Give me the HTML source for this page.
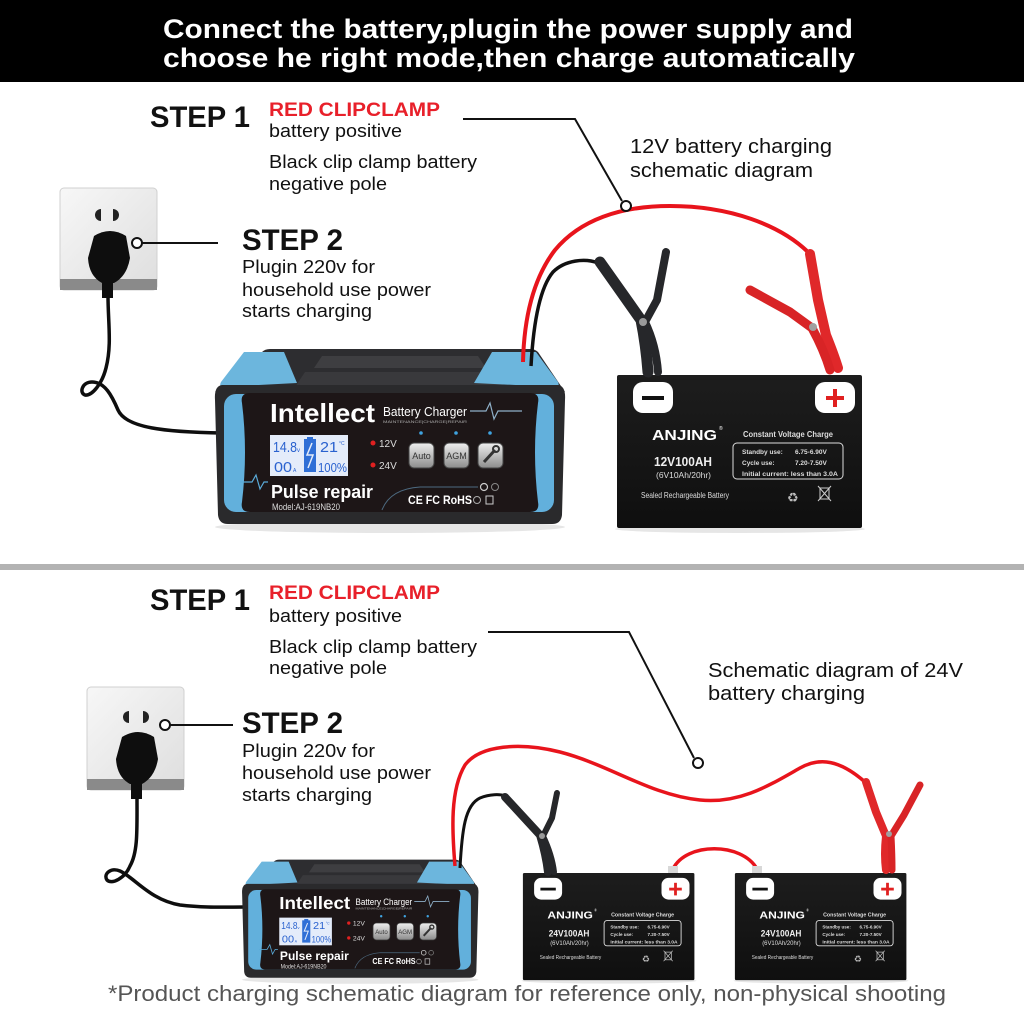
<!DOCTYPE html>
<html><head><meta charset="utf-8">
<style>html,body{margin:0;padding:0;background:#fff}svg{display:block}</style>
</head>
<body>
<svg width="1024" height="1024" viewBox="0 0 1024 1024" xmlns="http://www.w3.org/2000/svg" font-family="'Liberation Sans', sans-serif">
<defs>
 <linearGradient id="btn" x1="0" y1="0" x2="0" y2="1"><stop offset="0" stop-color="#efefef"/><stop offset="1" stop-color="#8c8c8c"/></linearGradient>
 <linearGradient id="sock" x1="0" y1="0" x2="1" y2="1"><stop offset="0" stop-color="#f7f7f7"/><stop offset="1" stop-color="#dedede"/></linearGradient>
 <linearGradient id="bat" x1="0" y1="0" x2="0" y2="1"><stop offset="0" stop-color="#1d1d1d"/><stop offset="1" stop-color="#0f0f0f"/></linearGradient>
</defs>
<rect width="1024" height="1024" fill="#fff"/>

<!-- HEADER -->
<rect width="1024" height="82" fill="#000"/>
<text x="163" y="38" font-size="27" font-weight="bold" fill="#fff" textLength="690" lengthAdjust="spacingAndGlyphs">Connect the battery,plugin the power supply and</text>
<text x="163" y="67" font-size="27" font-weight="bold" fill="#fff" textLength="692" lengthAdjust="spacingAndGlyphs">choose he right mode,then charge automatically</text>

<!-- ===== TOP PANEL TEXT ===== -->
<text x="150" y="127" font-size="30" font-weight="bold" fill="#111" textLength="100" lengthAdjust="spacingAndGlyphs">STEP 1</text>
<text x="269" y="116" font-size="19" font-weight="bold" fill="#e8202a" textLength="171" lengthAdjust="spacingAndGlyphs">RED CLIPCLAMP</text>
<text x="269" y="137" font-size="18" fill="#111" textLength="133" lengthAdjust="spacingAndGlyphs">battery positive</text>
<text x="269" y="168" font-size="18" fill="#111" textLength="208" lengthAdjust="spacingAndGlyphs">Black clip clamp battery</text>
<text x="269" y="190" font-size="18" fill="#111" textLength="118" lengthAdjust="spacingAndGlyphs">negative pole</text>
<text x="242" y="250" font-size="30" font-weight="bold" fill="#111" textLength="101" lengthAdjust="spacingAndGlyphs">STEP 2</text>
<text x="242" y="273" font-size="18" fill="#111" textLength="133" lengthAdjust="spacingAndGlyphs">Plugin 220v for</text>
<text x="242" y="296" font-size="18" fill="#111" textLength="189" lengthAdjust="spacingAndGlyphs">household use power</text>
<text x="242" y="317" font-size="18" fill="#111" textLength="130" lengthAdjust="spacingAndGlyphs">starts charging</text>
<text x="630" y="153" font-size="20" fill="#111" textLength="202" lengthAdjust="spacingAndGlyphs">12V battery charging</text>
<text x="630" y="177" font-size="20" fill="#111" textLength="183" lengthAdjust="spacingAndGlyphs">schematic diagram</text>

<polyline points="463,119 575,119 622,201" fill="none" stroke="#111" stroke-width="2"/>

<!-- top socket -->
<rect x="60" y="188" width="97" height="102" rx="4" fill="url(#sock)" stroke="#d0d0d0"/>
<rect x="60" y="279" width="97" height="11" fill="#8a8a8a"/>
<path d="M101,209 L101,221 A6,6 0 0 1 101,209 Z" fill="#222"/>
<path d="M113,209 L113,221 A6,6 0 0 0 113,209 Z" fill="#222"/>
<path d="M94,236 Q110,226 126,236 L130,258 Q127,276 114,283 L102,283 Q89,276 88,258 Z" fill="#0e0e0e"/>
<rect x="102" y="278" width="11" height="20" fill="#0e0e0e"/>
<circle cx="137" cy="243" r="5" fill="#fff" stroke="#111" stroke-width="2"/>
<line x1="142" y1="243" x2="218" y2="243" stroke="#111" stroke-width="2"/>
<path d="M108,296 C108,322 112,345 106,368 C102,384 92,396 85,395 C79,393 82,382 92,382 C105,382 112,396 118,410 C126,428 165,432 222,433" fill="none" stroke="#0e0e0e" stroke-width="3.5"/>

<!-- top charger -->
<g>
 <ellipse cx="390" cy="527" rx="175" ry="6" fill="#e6e6e6"/>
 <path d="M262,352 Q265,349 270,349 L530,349 Q535,349 538,352 L565,392 L215,392 Z" fill="#2d2d30"/>
 <path d="M322,356 L478,356 L486,368 L314,368 Z" fill="#3e3e41"/>
 <path d="M305,372 L495,372 L505,387 L295,387 Z" fill="#39393c"/>
 <path d="M244,352 L284,352 L297,383 L222,387 Q219,386 221,382 Z" fill="#6cb6dd"/>
 <path d="M492,352 L536,352 L558,382 Q560,386 556,387 L474,383 Z" fill="#6cb6dd"/>
 <path d="M222,385 L558,385 Q566,386 565,400 L562,515 Q561,524 552,524 L228,524 Q219,524 218,515 L215,400 Q214,386 222,385 Z" fill="#2a2a2c"/>
 <rect x="224" y="394" width="330" height="118" rx="12" fill="#62b0dc"/>
 <path d="M250,393 L530,393 Q540,393 538,403 Q532,452 538,502 Q540,512 530,512 L250,512 Q240,512 242,502 Q248,452 242,403 Q240,393 250,393 Z" fill="#1d1617"/>
 <text x="270" y="422" font-size="26" font-weight="bold" fill="#fff" textLength="105" lengthAdjust="spacingAndGlyphs">Intellect</text>
 <text x="383" y="416" font-size="13" fill="#fff" textLength="84" lengthAdjust="spacingAndGlyphs">Battery Charger</text>
 <text x="383" y="423" font-size="4" fill="#aaa" textLength="84" lengthAdjust="spacingAndGlyphs">MAINTENANCE|CHARGE|REPAIR</text>
 <polyline points="470,411 486,411 490,403 494,419 498,411 522,411" fill="none" stroke="#8fb0c8" stroke-width="1.2"/>
 <polyline points="240,482 252,482 256,475 260,489 264,482 268,482" fill="none" stroke="#5aaad8" stroke-width="1.2"/>
 <rect x="270" y="435" width="78" height="41" fill="#e4ecfa"/>
 <text x="273" y="452" font-size="15" fill="#2a62cf" textLength="24" lengthAdjust="spacingAndGlyphs">14.8</text>
 <text x="297" y="452" font-size="6" fill="#2a62cf">v</text>
 <rect x="307" y="437" width="6" height="3" fill="#2f6fd6"/>
 <rect x="304" y="439" width="12" height="33" fill="#2f6fd6"/>
 <polyline points="312,443 307,455 313,455 308,468" fill="none" stroke="#e4ecfa" stroke-width="1.5"/>
 <text x="320" y="452" font-size="15" fill="#2a62cf" textLength="18" lengthAdjust="spacingAndGlyphs">21</text>
 <text x="339" y="445" font-size="5" fill="#2a62cf">°C</text>
 <text x="274" y="472" font-size="15" fill="#2a62cf" textLength="18" lengthAdjust="spacingAndGlyphs">00</text>
 <text x="293" y="472" font-size="5" fill="#2a62cf">A</text>
 <text x="318" y="472" font-size="13" fill="#2a62cf" textLength="29" lengthAdjust="spacingAndGlyphs">100%</text>
 <circle cx="373" cy="443" r="2.5" fill="#e02020"/>
 <text x="379" y="447" font-size="10" fill="#ddd">12V</text>
 <circle cx="373" cy="465" r="2.5" fill="#e02020"/>
 <text x="379" y="469" font-size="10" fill="#ddd">24V</text>
 <circle cx="421" cy="433" r="1.8" fill="#3fa3e0"/>
 <circle cx="456" cy="433" r="1.8" fill="#3fa3e0"/>
 <circle cx="490" cy="433" r="1.8" fill="#3fa3e0"/>
 <rect x="409" y="443" width="25" height="25" rx="5" fill="url(#btn)" stroke="#444"/>
 <text x="421.5" y="459" font-size="9" fill="#333" text-anchor="middle">Auto</text>
 <rect x="444" y="443" width="25" height="25" rx="5" fill="url(#btn)" stroke="#444"/>
 <text x="456.5" y="459" font-size="9" fill="#333" text-anchor="middle">AGM</text>
 <rect x="478" y="443" width="25" height="25" rx="5" fill="url(#btn)" stroke="#444"/>
 <line x1="484" y1="462" x2="495" y2="450" stroke="#333" stroke-width="3"/>
 <circle cx="496" cy="449" r="3" fill="none" stroke="#333" stroke-width="2"/>
 <text x="271" y="498" font-size="18" font-weight="bold" fill="#fff" textLength="102" lengthAdjust="spacingAndGlyphs">Pulse repair</text>
 <text x="272" y="510" font-size="9" fill="#ddd" textLength="68" lengthAdjust="spacingAndGlyphs">Model:AJ-619NB20</text>
 <path d="M382,510 Q390,489 420,487 L478,487" fill="none" stroke="#4d6a80" stroke-width="1"/>
 <text x="408" y="504" font-size="12" font-weight="bold" fill="#fff" textLength="64" lengthAdjust="spacingAndGlyphs">CE FC RoHS</text>
 <circle cx="484" cy="487" r="3.5" fill="none" stroke="#ccc" stroke-width="1.2"/>
 <circle cx="495" cy="487" r="3.5" fill="none" stroke="#888" stroke-width="1"/>
 <circle cx="477" cy="500" r="3.5" fill="none" stroke="#aaa" stroke-width="1"/>
 <rect x="486" y="496" width="7" height="8" fill="none" stroke="#ccc" stroke-width="1"/>
</g>

<!-- top battery -->
<g>
 <ellipse cx="740" cy="529" rx="125" ry="4" fill="#e6e6e6"/>
 <rect x="617" y="375" width="245" height="153" rx="2" fill="url(#bat)"/>
 <rect x="633" y="382" width="40" height="31" rx="10" fill="#fff"/>
 <rect x="642" y="396" width="22" height="4" fill="#111"/>
 <rect x="815" y="382" width="40" height="31" rx="10" fill="#fff"/>
 <rect x="826" y="396" width="18" height="4" fill="#e02020"/>
 <rect x="833" y="389" width="4" height="18" fill="#e02020"/>
 <text x="652" y="440" font-size="15" font-weight="bold" fill="#fff" textLength="65" lengthAdjust="spacingAndGlyphs">ANJING</text>
 <text x="719" y="430" font-size="5" fill="#fff">®</text>
 <text x="654" y="466" font-size="13" font-weight="bold" fill="#eee" textLength="58" lengthAdjust="spacingAndGlyphs">12V100AH</text>
 <text x="656" y="478" font-size="8.5" fill="#ddd" textLength="55" lengthAdjust="spacingAndGlyphs">(6V10Ah/20hr)</text>
 <text x="641" y="498" font-size="8" fill="#ddd" textLength="88" lengthAdjust="spacingAndGlyphs">Sealed Rechargeable Battery</text>
 <text x="743" y="437" font-size="8" font-weight="bold" fill="#ddd" textLength="90" lengthAdjust="spacingAndGlyphs">Constant Voltage Charge</text>
 <rect x="733" y="443" width="110" height="36" rx="4" fill="none" stroke="#ddd" stroke-width="1"/>
 <text x="742" y="454" font-size="6.5" fill="#ddd" font-weight="bold">Standby  use:</text>
 <text x="795" y="454" font-size="6.5" fill="#ddd" font-weight="bold">6.75-6.90V</text>
 <text x="742" y="465" font-size="6.5" fill="#ddd" font-weight="bold">Cycle      use:</text>
 <text x="795" y="465" font-size="6.5" fill="#ddd" font-weight="bold">7.20-7.50V</text>
 <text x="742" y="476" font-size="6.5" fill="#ddd" font-weight="bold" textLength="96" lengthAdjust="spacingAndGlyphs">Initial current:  less than  3.0A</text>
 <text x="787" y="502" font-size="13" fill="#bbb">♻</text>
 <rect x="820" y="488" width="9" height="11" fill="none" stroke="#ccc" stroke-width="1"/>
 <line x1="818" y1="486" x2="831" y2="501" stroke="#ccc"/>
 <line x1="831" y1="486" x2="818" y2="501" stroke="#ccc"/>
</g>

<!-- top wires & clips -->
<path d="M523,362 C524,320 532,280 555,250 C580,220 620,206 670,206 C730,206 780,225 808,252" fill="none" stroke="#e8141c" stroke-width="4"/>
<path d="M531,366 C533,330 538,290 553,272 C565,260 585,258 598,263" fill="none" stroke="#111" stroke-width="3.5"/>
<circle cx="626" cy="206" r="5" fill="#fff" stroke="#111" stroke-width="2"/>
<path d="M600,262 L641,320 Q646,345 648,372" fill="none" stroke="#26272a" stroke-width="11" stroke-linecap="round" stroke-linejoin="round"/>
<path d="M666,252 L657,300 L645,322 Q656,345 658,372" fill="none" stroke="#26272a" stroke-width="8" stroke-linecap="round" stroke-linejoin="round"/>
<circle cx="643" cy="322" r="4" fill="#9a9a9a"/>
<path d="M810,254 L818,300 L826,335 Q834,355 838,368" fill="none" stroke="#e0282a" stroke-width="10" stroke-linecap="round" stroke-linejoin="round"/>
<path d="M750,290 L790,312 L812,328 Q824,350 830,370" fill="none" stroke="#d82426" stroke-width="9" stroke-linecap="round" stroke-linejoin="round"/>
<circle cx="813" cy="327" r="4" fill="#a0a0a0"/>

<!-- separator -->
<rect x="0" y="564" width="1024" height="6" fill="#b3b3b3"/>

<!-- ===== BOTTOM PANEL TEXT ===== -->
<text x="150" y="610" font-size="30" font-weight="bold" fill="#111" textLength="100" lengthAdjust="spacingAndGlyphs">STEP 1</text>
<text x="269" y="599" font-size="19" font-weight="bold" fill="#e8202a" textLength="171" lengthAdjust="spacingAndGlyphs">RED CLIPCLAMP</text>
<text x="269" y="622" font-size="18" fill="#111" textLength="133" lengthAdjust="spacingAndGlyphs">battery positive</text>
<text x="269" y="653" font-size="18" fill="#111" textLength="208" lengthAdjust="spacingAndGlyphs">Black clip clamp battery</text>
<text x="269" y="674" font-size="18" fill="#111" textLength="118" lengthAdjust="spacingAndGlyphs">negative pole</text>
<text x="242" y="733" font-size="30" font-weight="bold" fill="#111" textLength="101" lengthAdjust="spacingAndGlyphs">STEP 2</text>
<text x="242" y="757" font-size="18" fill="#111" textLength="133" lengthAdjust="spacingAndGlyphs">Plugin 220v for</text>
<text x="242" y="779" font-size="18" fill="#111" textLength="189" lengthAdjust="spacingAndGlyphs">household use power</text>
<text x="242" y="801" font-size="18" fill="#111" textLength="130" lengthAdjust="spacingAndGlyphs">starts charging</text>
<text x="708" y="677" font-size="20" fill="#111" textLength="255" lengthAdjust="spacingAndGlyphs">Schematic diagram of 24V</text>
<text x="708" y="700" font-size="20" fill="#111" textLength="157" lengthAdjust="spacingAndGlyphs">battery charging</text>

<polyline points="488,632 629,632 694,758" fill="none" stroke="#111" stroke-width="2"/>

<!-- bottom socket -->
<rect x="87" y="687" width="97" height="103" rx="4" fill="url(#sock)" stroke="#d0d0d0"/>
<rect x="87" y="779" width="97" height="11" fill="#8a8a8a"/>
<path d="M129,711 L129,723 A6,6 0 0 1 129,711 Z" fill="#222"/>
<path d="M143,711 L143,723 A6,6 0 0 0 143,711 Z" fill="#222"/>
<path d="M122,737 Q138,727 154,737 L158,759 Q155,777 142,784 L130,784 Q117,777 116,759 Z" fill="#0e0e0e"/>
<rect x="131" y="779" width="11" height="20" fill="#0e0e0e"/>
<circle cx="165" cy="725" r="5" fill="#fff" stroke="#111" stroke-width="2"/>
<line x1="170" y1="725" x2="233" y2="725" stroke="#111" stroke-width="2"/>
<path d="M137,797 C137,830 138,852 130,866 C125,878 112,885 107,880 C103,874 111,867 120,871 C135,878 150,900 180,905 C205,908 225,907 246,907" fill="none" stroke="#0e0e0e" stroke-width="3.5"/>

<!-- bottom charger (scaled copy) -->
<g transform="translate(97,624) scale(0.675)">
 <ellipse cx="390" cy="527" rx="175" ry="6" fill="#e6e6e6"/>
 <path d="M262,352 Q265,349 270,349 L530,349 Q535,349 538,352 L565,392 L215,392 Z" fill="#2d2d30"/>
 <path d="M322,356 L478,356 L486,368 L314,368 Z" fill="#3e3e41"/>
 <path d="M305,372 L495,372 L505,387 L295,387 Z" fill="#39393c"/>
 <path d="M244,352 L284,352 L297,383 L222,387 Q219,386 221,382 Z" fill="#6cb6dd"/>
 <path d="M492,352 L536,352 L558,382 Q560,386 556,387 L474,383 Z" fill="#6cb6dd"/>
 <path d="M222,385 L558,385 Q566,386 565,400 L562,515 Q561,524 552,524 L228,524 Q219,524 218,515 L215,400 Q214,386 222,385 Z" fill="#2a2a2c"/>
 <rect x="224" y="394" width="330" height="118" rx="12" fill="#62b0dc"/>
 <path d="M250,393 L530,393 Q540,393 538,403 Q532,452 538,502 Q540,512 530,512 L250,512 Q240,512 242,502 Q248,452 242,403 Q240,393 250,393 Z" fill="#1d1617"/>
 <text x="270" y="422" font-size="26" font-weight="bold" fill="#fff" textLength="105" lengthAdjust="spacingAndGlyphs">Intellect</text>
 <text x="383" y="416" font-size="13" fill="#fff" textLength="84" lengthAdjust="spacingAndGlyphs">Battery Charger</text>
 <text x="383" y="423" font-size="4" fill="#aaa" textLength="84" lengthAdjust="spacingAndGlyphs">MAINTENANCE|CHARGE|REPAIR</text>
 <polyline points="470,411 486,411 490,403 494,419 498,411 522,411" fill="none" stroke="#8fb0c8" stroke-width="1.2"/>
 <polyline points="240,482 252,482 256,475 260,489 264,482 268,482" fill="none" stroke="#5aaad8" stroke-width="1.2"/>
 <rect x="270" y="435" width="78" height="41" fill="#e4ecfa"/>
 <text x="273" y="452" font-size="15" fill="#2a62cf" textLength="24" lengthAdjust="spacingAndGlyphs">14.8</text>
 <text x="297" y="452" font-size="6" fill="#2a62cf">v</text>
 <rect x="307" y="437" width="6" height="3" fill="#2f6fd6"/>
 <rect x="304" y="439" width="12" height="33" fill="#2f6fd6"/>
 <polyline points="312,443 307,455 313,455 308,468" fill="none" stroke="#e4ecfa" stroke-width="1.5"/>
 <text x="320" y="452" font-size="15" fill="#2a62cf" textLength="18" lengthAdjust="spacingAndGlyphs">21</text>
 <text x="339" y="445" font-size="5" fill="#2a62cf">°C</text>
 <text x="274" y="472" font-size="15" fill="#2a62cf" textLength="18" lengthAdjust="spacingAndGlyphs">00</text>
 <text x="293" y="472" font-size="5" fill="#2a62cf">A</text>
 <text x="318" y="472" font-size="13" fill="#2a62cf" textLength="29" lengthAdjust="spacingAndGlyphs">100%</text>
 <circle cx="373" cy="443" r="2.5" fill="#e02020"/>
 <text x="379" y="447" font-size="10" fill="#ddd">12V</text>
 <circle cx="373" cy="465" r="2.5" fill="#e02020"/>
 <text x="379" y="469" font-size="10" fill="#ddd">24V</text>
 <circle cx="421" cy="433" r="1.8" fill="#3fa3e0"/>
 <circle cx="456" cy="433" r="1.8" fill="#3fa3e0"/>
 <circle cx="490" cy="433" r="1.8" fill="#3fa3e0"/>
 <rect x="409" y="443" width="25" height="25" rx="5" fill="url(#btn)" stroke="#444"/>
 <text x="421.5" y="459" font-size="9" fill="#333" text-anchor="middle">Auto</text>
 <rect x="444" y="443" width="25" height="25" rx="5" fill="url(#btn)" stroke="#444"/>
 <text x="456.5" y="459" font-size="9" fill="#333" text-anchor="middle">AGM</text>
 <rect x="478" y="443" width="25" height="25" rx="5" fill="url(#btn)" stroke="#444"/>
 <line x1="484" y1="462" x2="495" y2="450" stroke="#333" stroke-width="3"/>
 <circle cx="496" cy="449" r="3" fill="none" stroke="#333" stroke-width="2"/>
 <text x="271" y="498" font-size="18" font-weight="bold" fill="#fff" textLength="102" lengthAdjust="spacingAndGlyphs">Pulse repair</text>
 <text x="272" y="510" font-size="9" fill="#ddd" textLength="68" lengthAdjust="spacingAndGlyphs">Model:AJ-619NB20</text>
 <path d="M382,510 Q390,489 420,487 L478,487" fill="none" stroke="#4d6a80" stroke-width="1"/>
 <text x="408" y="504" font-size="12" font-weight="bold" fill="#fff" textLength="64" lengthAdjust="spacingAndGlyphs">CE FC RoHS</text>
 <circle cx="484" cy="487" r="3.5" fill="none" stroke="#ccc" stroke-width="1.2"/>
 <circle cx="495" cy="487" r="3.5" fill="none" stroke="#888" stroke-width="1"/>
 <circle cx="477" cy="500" r="3.5" fill="none" stroke="#aaa" stroke-width="1"/>
 <rect x="486" y="496" width="7" height="8" fill="none" stroke="#ccc" stroke-width="1"/>
</g>

<!-- bottom battery 1 -->
<g transform="translate(91,610.5) scale(0.7)">
 <ellipse cx="740" cy="529" rx="125" ry="4" fill="#e6e6e6"/>
 <rect x="617" y="375" width="245" height="153" rx="2" fill="url(#bat)"/>
 <rect x="633" y="382" width="40" height="31" rx="10" fill="#fff"/>
 <rect x="642" y="396" width="22" height="4" fill="#111"/>
 <rect x="815" y="382" width="40" height="31" rx="10" fill="#fff"/>
 <rect x="826" y="396" width="18" height="4" fill="#e02020"/>
 <rect x="833" y="389" width="4" height="18" fill="#e02020"/>
 <text x="652" y="440" font-size="15" font-weight="bold" fill="#fff" textLength="65" lengthAdjust="spacingAndGlyphs">ANJING</text>
 <text x="719" y="430" font-size="5" fill="#fff">®</text>
 <text x="654" y="466" font-size="13" font-weight="bold" fill="#eee" textLength="58" lengthAdjust="spacingAndGlyphs">24V100AH</text>
 <text x="656" y="478" font-size="8.5" fill="#ddd" textLength="55" lengthAdjust="spacingAndGlyphs">(6V10Ah/20hr)</text>
 <text x="641" y="498" font-size="8" fill="#ddd" textLength="88" lengthAdjust="spacingAndGlyphs">Sealed Rechargeable Battery</text>
 <text x="743" y="437" font-size="8" font-weight="bold" fill="#ddd" textLength="90" lengthAdjust="spacingAndGlyphs">Constant Voltage Charge</text>
 <rect x="733" y="443" width="110" height="36" rx="4" fill="none" stroke="#ddd" stroke-width="1.3"/>
 <text x="742" y="454" font-size="6.5" fill="#ddd" font-weight="bold">Standby  use:</text>
 <text x="795" y="454" font-size="6.5" fill="#ddd" font-weight="bold">6.75-6.90V</text>
 <text x="742" y="465" font-size="6.5" fill="#ddd" font-weight="bold">Cycle      use:</text>
 <text x="795" y="465" font-size="6.5" fill="#ddd" font-weight="bold">7.20-7.50V</text>
 <text x="742" y="476" font-size="6.5" fill="#ddd" font-weight="bold" textLength="96" lengthAdjust="spacingAndGlyphs">Initial current:  less than  3.0A</text>
 <text x="787" y="502" font-size="13" fill="#bbb">♻</text>
 <rect x="820" y="488" width="9" height="11" fill="none" stroke="#ccc" stroke-width="1"/>
 <line x1="818" y1="486" x2="831" y2="501" stroke="#ccc"/>
 <line x1="831" y1="486" x2="818" y2="501" stroke="#ccc"/>
</g>

<!-- bottom battery 2 -->
<g transform="translate(303,610.5) scale(0.7)">
 <ellipse cx="740" cy="529" rx="125" ry="4" fill="#e6e6e6"/>
 <rect x="617" y="375" width="245" height="153" rx="2" fill="url(#bat)"/>
 <rect x="633" y="382" width="40" height="31" rx="10" fill="#fff"/>
 <rect x="642" y="396" width="22" height="4" fill="#111"/>
 <rect x="815" y="382" width="40" height="31" rx="10" fill="#fff"/>
 <rect x="826" y="396" width="18" height="4" fill="#e02020"/>
 <rect x="833" y="389" width="4" height="18" fill="#e02020"/>
 <text x="652" y="440" font-size="15" font-weight="bold" fill="#fff" textLength="65" lengthAdjust="spacingAndGlyphs">ANJING</text>
 <text x="719" y="430" font-size="5" fill="#fff">®</text>
 <text x="654" y="466" font-size="13" font-weight="bold" fill="#eee" textLength="58" lengthAdjust="spacingAndGlyphs">24V100AH</text>
 <text x="656" y="478" font-size="8.5" fill="#ddd" textLength="55" lengthAdjust="spacingAndGlyphs">(6V10Ah/20hr)</text>
 <text x="641" y="498" font-size="8" fill="#ddd" textLength="88" lengthAdjust="spacingAndGlyphs">Sealed Rechargeable Battery</text>
 <text x="743" y="437" font-size="8" font-weight="bold" fill="#ddd" textLength="90" lengthAdjust="spacingAndGlyphs">Constant Voltage Charge</text>
 <rect x="733" y="443" width="110" height="36" rx="4" fill="none" stroke="#ddd" stroke-width="1.3"/>
 <text x="742" y="454" font-size="6.5" fill="#ddd" font-weight="bold">Standby  use:</text>
 <text x="795" y="454" font-size="6.5" fill="#ddd" font-weight="bold">6.75-6.90V</text>
 <text x="742" y="465" font-size="6.5" fill="#ddd" font-weight="bold">Cycle      use:</text>
 <text x="795" y="465" font-size="6.5" fill="#ddd" font-weight="bold">7.20-7.50V</text>
 <text x="742" y="476" font-size="6.5" fill="#ddd" font-weight="bold" textLength="96" lengthAdjust="spacingAndGlyphs">Initial current:  less than  3.0A</text>
 <text x="787" y="502" font-size="13" fill="#bbb">♻</text>
 <rect x="820" y="488" width="9" height="11" fill="none" stroke="#ccc" stroke-width="1"/>
 <line x1="818" y1="486" x2="831" y2="501" stroke="#ccc"/>
 <line x1="831" y1="486" x2="818" y2="501" stroke="#ccc"/>
</g>

<!-- bridge wire -->
<path d="M673,869 C686,842 742,842 757,869" fill="none" stroke="#e8141c" stroke-width="3.5"/>
<rect x="668" y="866" width="10" height="7" fill="#d8d8d8"/>
<rect x="752" y="866" width="10" height="7" fill="#d8d8d8"/>

<!-- bottom wires & clips -->
<path d="M455,866 C452,830 450,790 465,765 C480,745 520,742 560,752 C610,765 650,795 700,800 C740,804 770,785 800,768 C820,757 840,760 865,782" fill="none" stroke="#e8141c" stroke-width="3.5"/>
<path d="M460,868 C462,830 465,805 480,798 C490,794 500,794 505,796" fill="none" stroke="#111" stroke-width="3"/>
<circle cx="698" cy="763" r="5" fill="#fff" stroke="#111" stroke-width="2"/>
<path d="M505,797 L540,835 Q546,855 548,872" fill="none" stroke="#26272a" stroke-width="8" stroke-linecap="round" stroke-linejoin="round"/>
<path d="M557,793 L552,818 L543,836 Q552,855 554,872" fill="none" stroke="#26272a" stroke-width="6" stroke-linecap="round" stroke-linejoin="round"/>
<circle cx="542" cy="836" r="3" fill="#9a9a9a"/>
<path d="M866,782 L876,812 L886,836 Q884,855 886,870" fill="none" stroke="#e0282a" stroke-width="8" stroke-linecap="round" stroke-linejoin="round"/>
<path d="M920,785 L904,815 L891,836 Q892,855 892,870" fill="none" stroke="#d82426" stroke-width="7" stroke-linecap="round" stroke-linejoin="round"/>
<circle cx="889" cy="834" r="3" fill="#a0a0a0"/>

<!-- footer note -->
<text x="108" y="1001" font-size="22" fill="#555" textLength="838" lengthAdjust="spacingAndGlyphs">*Product charging schematic diagram for reference only, non-physical shooting</text>
</svg>
</body></html>
